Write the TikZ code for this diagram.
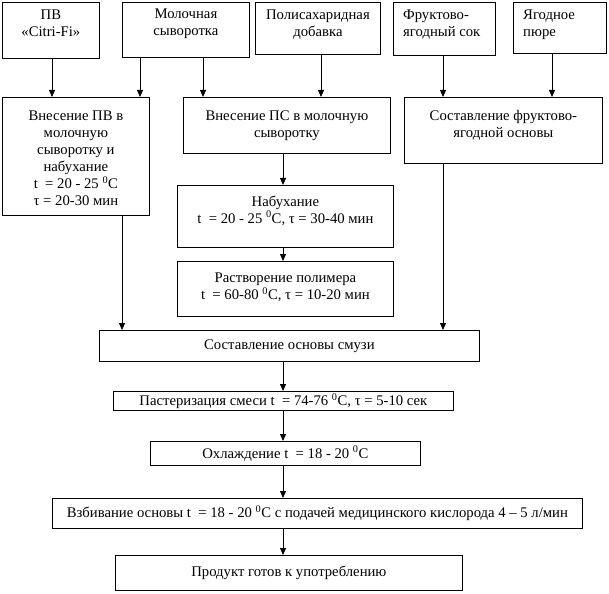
\documentclass[tikz,border=0pt]{standalone}
\usepackage{fontspec}
\setmainfont{Liberation Serif}
\usetikzlibrary{arrows.meta}

\begin{document}
\begin{tikzpicture}[x=1pt,y=-1pt]
        \tikzstyle{box} = [draw,line width=0.8pt,inner sep=0pt,font=\fontsize{14.7}{17}\selectfont]
        \tikzstyle{txt} = [align=center,inner sep=0pt,font=\fontsize{14.7}{17}\selectfont]
        \tikzstyle{arr} = [line width=0.8pt,-{Triangle[length=7pt,width=6pt]}]
        \useasboundingbox (0,0) rectangle (609,593);

        % boxes: name / left / top / right / bottom / one-line text
        \foreach \n/\xa/\ya/\xb/\yb/\t in {pv/2/2/99/58/{}, mol/122/2/249/57/{},
          ps/255/2/380/54/{}, fr/393/2/495/55/{}, yag/513/2/606/53/{},
          pvin/2/97/149/215/{}, psin/183/97/390/153/{}, frin/404/97/602/163/{},
          nab/177/185/393/247/{}, rast/177/261/393/316/{},
          osn/99/330/479/361/{Составление основы смузи},
          past/113/391/453/410/{Пастеризация смеси t~ = 74-76 \textsuperscript{0}C, τ = 5-10 сек},
          ohl/150/441/420/465/{Охлаждение t~ = 18 - 20 \textsuperscript{0}C},
          vzb/52/498/582/528/{Взбивание основы t~ = 18 - 20 \textsuperscript{0}C с подачей медицинского кислорода 4 – 5 л/мин},
          prod/115/555/462/590/{Продукт готов к употреблению}} {
          \pgfmathsetmacro\w{\xb-\xa}
          \pgfmathsetmacro\h{\yb-\ya}
          \node[box,minimum width=\w pt,minimum height=\h pt,anchor=north west] (\n) at (\xa,\ya) {\t};
        }

        % texts set from the top of the box
        \foreach \n/\d/\t in {pv/8/{ПВ\\«Citri-Fi»}, mol/7/{Молочная\\сыворотка},
          ps/8/{Полисахаридная\\добавка},
          pvin/13.5/{Внесение ПВ в\\молочную\\сыворотку и\\набухание\\t~ = 20 - 25 \textsuperscript{0}C\\τ = 20-30 мин},
          psin/13.5/{Внесение ПС в молочную\\сыворотку},
          frin/13.5/{Составление фруктово-\\ягодной основы},
          nab/10.5/{Набухание\\t~ = 20 - 25 \textsuperscript{0}C, τ = 30-40 мин},
          rast/12/{Растворение полимера\\t~ = 60-80 \textsuperscript{0}C, τ = 10-20 мин}} {
          \node[txt,anchor=north,yshift=-\d pt] at (\n.north) {\t};
        }
        \node[txt,align=left,anchor=north west,xshift=10pt,yshift=-8pt] at (fr.north west) {Фруктово-\\ягодный сок};
        \node[txt,align=left,anchor=north west,xshift=10pt,yshift=-8pt] at (yag.north west) {Ягодное\\пюре};

        % arrows: from / to / column
        \foreach \a/\b/\x in {pv/pvin/52, mol/pvin/140, mol/psin/203, ps/psin/321,
          fr/frin/443, yag/frin/552, psin/nab/283, nab/rast/283, pvin/osn/122,
          frin/osn/443, osn/past/283, past/ohl/283, ohl/vzb/283, vzb/prod/283} {
          \coordinate (col) at (\x,0);
          \draw[arr] (\a.south -| col) -- (\b.north -| col);
        }
\end{tikzpicture}
\end{document}
